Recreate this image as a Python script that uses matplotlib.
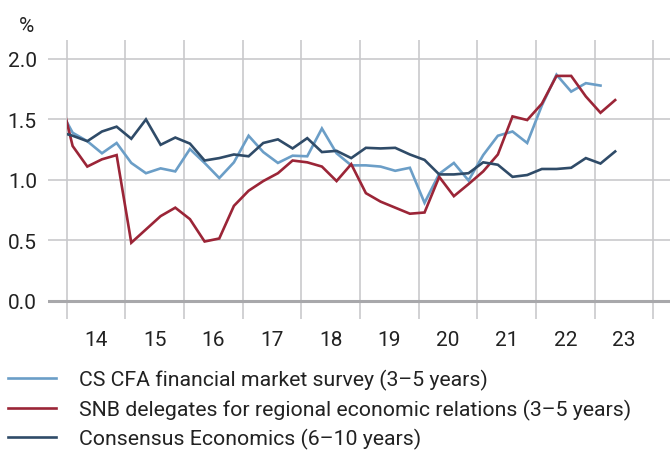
import matplotlib.pyplot as plt
from matplotlib.patches import Rectangle
import numpy as np

plt.rcParams['font.family'] = ['Roboto', 'DejaVu Sans']

# quarterly observations, first one is 2013 Q4 (clipped at start of 2014)
start_year = 2013.85
cs_cfa = [1.615, 1.39, 1.32, 1.22, 1.305, 1.14, 1.055, 1.095, 1.07, 1.255,
          1.14, 1.015, 1.145, 1.365, 1.23, 1.14, 1.20, 1.195, 1.425, 1.22,
          1.12, 1.12, 1.11, 1.075, 1.10, 0.81, 1.05, 1.14, 0.995, 1.205,
          1.365, 1.40, 1.305, 1.615, 1.87, 1.73, 1.80, 1.78]
snb = [1.78, 1.28, 1.11, 1.17, 1.205, 0.48, 0.59, 0.70, 0.77, 0.675,
       0.49, 0.515, 0.785, 0.91, 0.99, 1.055, 1.16, 1.145, 1.11, 0.99,
       1.13, 0.89, 0.82, 0.77, 0.72, 0.73, 1.025, 0.865, 0.965, 1.07,
       1.21, 1.525, 1.495, 1.63, 1.86, 1.86, 1.69, 1.555, 1.66]
consensus = [1.40, 1.365, 1.32, 1.40, 1.44, 1.34, 1.50, 1.29, 1.35, 1.30,
             1.16, 1.18, 1.21, 1.195, 1.305, 1.335, 1.26, 1.345, 1.23, 1.24,
             1.18, 1.265, 1.26, 1.265, 1.21, 1.165, 1.045, 1.045, 1.055, 1.145,
             1.125, 1.025, 1.04, 1.09, 1.09, 1.10, 1.18, 1.135, 1.235]

labels = ['CS CFA financial market survey (3–5 years)',
          'SNB delegates for regional economic relations (3–5 years)',
          'Consensus Economics (6–10 years)']
colors = ['#6b9ec7', '#9b2537', '#2f4b68']
years = list(range(2014, 2024))
yticks = [0.0, 0.5, 1.0, 1.5, 2.0]

fig = plt.figure(figsize=(6.7, 4.52), dpi=100)
ax = fig.add_axes([48 / 670, 1 - 320 / 452, 622 / 670, 279 / 452])

clip = Rectangle((2014.0, -1), 20, 5, transform=ax.transData, visible=False)
ax.add_patch(clip)
for series, color, label in zip([cs_cfa, snb, consensus], colors, labels):
    x = start_year + 0.25 * np.arange(len(series))
    line, = ax.plot(x, series, color=color, lw=1.9, label=label,
                    solid_joinstyle='miter')
    line.set_clip_path(clip)

ax.set_xlim(2013.68, 2024.285)
ax.set_ylim(-0.151, 2.157)

ax.set_xticks(years + [2024])
ax.set_xticklabels([])
ax.set_xticks([y + 0.5 for y in years], minor=True)
ax.set_xticklabels([str(y)[2:] for y in years], minor=True)
ax.set_yticks(yticks)
ax.set_yticklabels([f'{v:.1f}' for v in yticks])
ax.tick_params(which='both', length=0, labelsize=15, colors='#222222')
ax.tick_params(axis='x', which='minor', pad=8)
ax.tick_params(axis='y', pad=8)

ax.grid(True, axis='both', which='major', color='#c9c9cc', lw=1.2)
ax.axhline(0, color='#a8a8ab', lw=2.2, zorder=1.5)
for s in ax.spines.values():
    s.set_visible(False)
ax.set_axisbelow(True)

fig.text(27 / 670, 1 - 27 / 452, '%', fontsize=15, color='#222222',
         ha='center', va='center')

fig.legend(loc='upper left', bbox_to_anchor=(8 / 670, 1 - 370 / 452),
           frameon=False, fontsize=15.3, handlelength=2.25, handletextpad=1.1,
           labelspacing=0.4, borderpad=0, borderaxespad=0,
           labelcolor='#222222')

fig.savefig('out.png', dpi=100)
